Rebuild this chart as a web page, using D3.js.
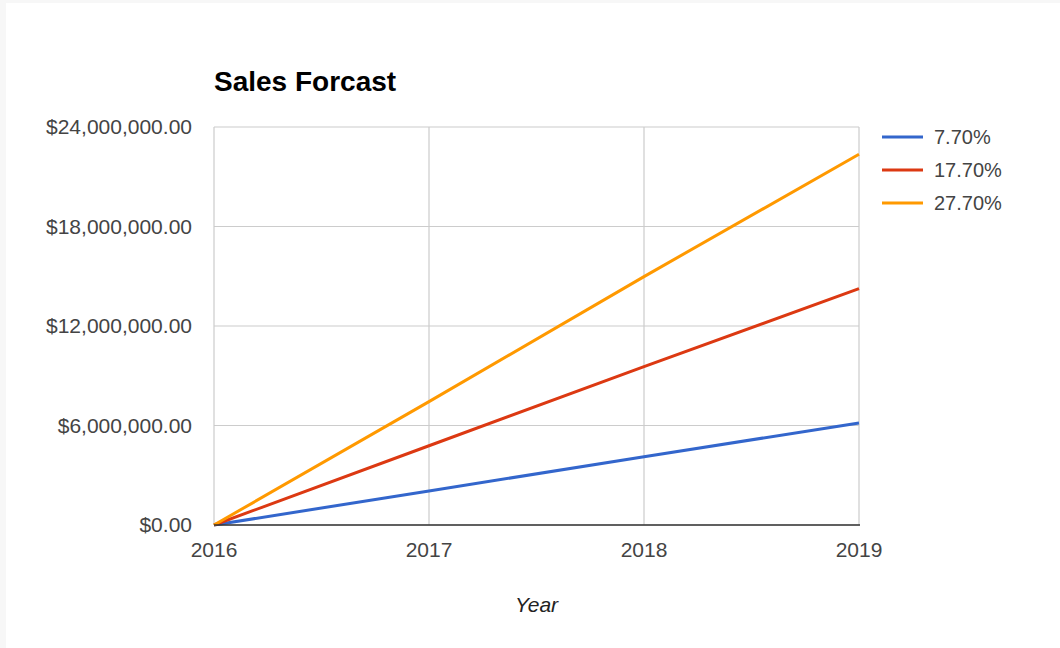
<!DOCTYPE html>
<html>
<head>
<meta charset="utf-8">
<script src="https://cdn.jsdelivr.net/npm/d3@7"></script>
<style>
  body { margin: 0; background: #f7f7f7; }
  svg { display: block; }
</style>
</head>
<body>
<svg id="chart" width="1060" height="648"></svg>
<script>
// data
const years = [2016, 2017, 2018, 2019]
const seriesNames = ['7.70%', '17.70%', '27.70%']
const seriesValues = [
  [0, 2050000, 4120000, 6150000],
  [0, 4780000, 9550000, 14250000],
  [0, 7440000, 14980000, 22360000],
]
const seriesColors = ['#3366cc', '#dc3912', '#ff9900']
const yTicks = [0, 6000000, 12000000, 18000000, 24000000]

const svg = d3.select('#chart')
const font = 'Arial, "Liberation Sans", sans-serif'

// white card with a thin grey margin on the left and top
svg.append('rect')
  .attr('x', 6).attr('y', 3)
  .attr('width', 1054).attr('height', 645)
  .attr('fill', '#fff')

const plotLeft = 214, plotRight = 859, plotTop = 127, plotBottom = 525

const x = d3.scaleLinear().domain([2016, 2019]).range([plotLeft, plotRight])
const y = d3.scaleLinear().domain([0, 24000000]).range([plotBottom, plotTop])

const money = d3.format('$,.2f')

// horizontal gridlines
svg.append('g')
  .selectAll('line')
  .data(yTicks)
  .join('line')
  .attr('x1', plotLeft).attr('x2', plotRight)
  .attr('y1', d => y(d)).attr('y2', d => y(d))
  .attr('stroke', '#ccc')
  .attr('stroke-width', 1.2)

// vertical gridlines
svg.append('g')
  .selectAll('line')
  .data(years)
  .join('line')
  .attr('x1', d => x(d)).attr('x2', d => x(d))
  .attr('y1', plotTop).attr('y2', plotBottom)
  .attr('stroke', '#ccc')
  .attr('stroke-width', 1.2)

// y tick labels
svg.append('g')
  .selectAll('text')
  .data(yTicks)
  .join('text')
  .attr('x', plotLeft - 22)
  .attr('y', d => y(d) + 7)
  .attr('text-anchor', 'end')
  .attr('font-family', font)
  .attr('font-size', 21)
  .attr('fill', '#444')
  .text(d => money(d))

// x tick labels
svg.append('g')
  .selectAll('text')
  .data(years)
  .join('text')
  .attr('x', d => x(d))
  .attr('y', plotBottom + 32)
  .attr('text-anchor', 'middle')
  .attr('font-family', font)
  .attr('font-size', 21)
  .attr('fill', '#444')
  .text(d => d)

// series lines
const line = d3.line()
  .x((d, i) => x(years[i]))
  .y(d => y(d))

svg.append('g')
  .selectAll('path')
  .data(seriesValues)
  .join('path')
  .attr('d', d => line(d))
  .attr('fill', 'none')
  .attr('stroke', (d, i) => seriesColors[i])
  .attr('stroke-width', 3)

// baseline
svg.append('line')
  .attr('x1', plotLeft).attr('x2', plotRight + 1)
  .attr('y1', y(0)).attr('y2', y(0))
  .attr('stroke', '#333')
  .attr('stroke-width', 1.5)

// title
svg.append('text')
  .attr('x', plotLeft)
  .attr('y', 91)
  .attr('font-family', font)
  .attr('font-size', 28)
  .attr('font-weight', 'bold')
  .attr('fill', '#000')
  .text('Sales Forcast')

// x axis title
svg.append('text')
  .attr('x', (plotLeft + plotRight) / 2)
  .attr('y', 612)
  .attr('text-anchor', 'middle')
  .attr('font-family', font)
  .attr('font-size', 21)
  .attr('font-style', 'italic')
  .attr('fill', '#222')
  .text('Year')

// legend
const legend = svg.append('g')
  .selectAll('g')
  .data(seriesNames)
  .join('g')
  .attr('transform', (d, i) => `translate(882,${137 + i * 33})`)

legend.append('line')
  .attr('x1', 0).attr('x2', 41)
  .attr('stroke', (d, i) => seriesColors[i])
  .attr('stroke-width', 3)

legend.append('text')
  .attr('x', 52)
  .attr('y', 7)
  .attr('font-family', font)
  .attr('font-size', 20)
  .attr('fill', '#444')
  .text(d => d)
</script>
</body>
</html>
